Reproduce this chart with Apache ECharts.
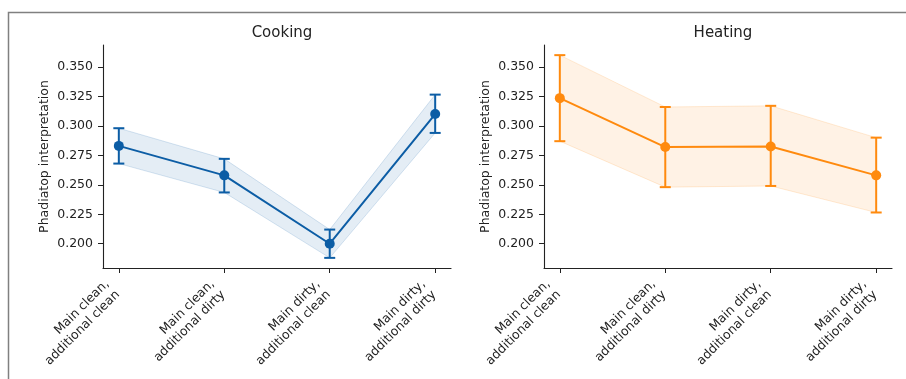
<!DOCTYPE html>
<html>
<head>
<meta charset="utf-8">
<script src="https://cdn.jsdelivr.net/npm/echarts@6/dist/echarts.min.js"></script>
<style>
html,body{margin:0;padding:0;background:#fff;}
#chart{width:906px;height:379px;}
</style>
</head>
<body>
<div id="chart"></div>
<script>
const categories = ["Main clean,\nadditional clean", "Main clean,\nadditional dirty", "Main dirty,\nadditional clean", "Main dirty,\nadditional dirty"];
const panelTitles = ["Cooking", "Heating"];
const cookingMean = [0.283, 0.258, 0.200, 0.310];
const cookingLow  = [0.268, 0.2435, 0.188, 0.294];
const cookingHigh = [0.298, 0.272, 0.212, 0.3265];
const heatingMean = [0.3235, 0.282, 0.2825, 0.258];
const heatingLow  = [0.287, 0.248, 0.249, 0.2265];
const heatingHigh = [0.360, 0.316, 0.317, 0.290];
const yTicks = [0.200, 0.225, 0.250, 0.275, 0.300, 0.325, 0.350];
const yLabel = "Phadiatop interpretation";

const FONT = "DejaVu Sans";
const yMin = 0.1794, yMax = 0.3686;
const xMin = -0.15, xMax = 3.15;
const colors = ["#0C5DA5", "#FF8A0E"];
const bandColors = ["rgba(12,93,165,0.11)", "rgba(255,138,14,0.11)"];
const bandEdge = ["rgba(12,93,165,0.16)", "rgba(255,138,14,0.16)"];

const chart = echarts.init(document.getElementById('chart'), null, {renderer: 'canvas'});

const grids = [
  {left: 103, top: 45, width: 348, height: 223},
  {left: 544, top: 45, width: 348, height: 223}
];

function xAxis(i) {
  return {
    type: 'value', gridIndex: i, min: xMin, max: xMax,
    splitLine: {show: false},
    axisLine: {show: true, onZero: false, lineStyle: {color: '#222', width: 1.1}},
    axisTick: {show: true, customValues: [0,1,2,3], length: 5, lineStyle: {color: '#222', width: 1}},
    axisLabel: {
      customValues: [0,1,2,3], rotate: 45, margin: 13,
      padding: [0, 9, 0, 0],
      fontFamily: FONT, fontSize: 12.5, color: '#222', lineHeight: 15,
      formatter: v => categories[Math.round(v)]
    }
  };
}
function yAxis(i) {
  return {
    type: 'value', gridIndex: i, min: yMin, max: yMax,
    splitLine: {show: false},
    axisLine: {show: true, onZero: false, lineStyle: {color: '#222', width: 1.1}},
    axisTick: {show: true, customValues: yTicks, length: 5, lineStyle: {color: '#222', width: 1}},
    axisLabel: {
      customValues: yTicks, margin: 10,
      fontFamily: FONT, fontSize: 12.5, color: '#222',
      formatter: v => v.toFixed(3)
    },
    name: yLabel, nameLocation: 'middle', nameGap: 52,
    nameTextStyle: {fontFamily: FONT, fontSize: 12.5, color: '#222'}
  };
}

function bandSeries(i, low, high) {
  return {
    type: 'custom', xAxisIndex: i, yAxisIndex: i, z: 1, silent: true,
    data: low.map((l, k) => [k, l, high[k]]),
    renderItem: function (params, api) {
      const k = params.dataIndex;
      if (k >= low.length - 1) return null;
      const a = api.coord([k, low[k]]), b = api.coord([k + 1, low[k + 1]]);
      const c = api.coord([k + 1, high[k + 1]]), d = api.coord([k, high[k]]);
      return {
        type: 'group', children: [
          {type: 'polygon', shape: {points: [a, b, c, d]}, style: {fill: bandColors[i], stroke: null}},
          {type: 'line', shape: {x1: a[0], y1: a[1], x2: b[0], y2: b[1]}, style: {stroke: bandEdge[i], lineWidth: 1}},
          {type: 'line', shape: {x1: d[0], y1: d[1], x2: c[0], y2: c[1]}, style: {stroke: bandEdge[i], lineWidth: 1}}
        ]
      };
    }
  };
}

function errSeries(i, low, high) {
  return {
    type: 'custom', xAxisIndex: i, yAxisIndex: i, z: 3, silent: true,
    data: low.map((l, k) => [k, l, high[k]]),
    renderItem: function (params, api) {
      const x = api.value(0);
      const lo = api.coord([x, api.value(1)]), hi = api.coord([x, api.value(2)]);
      const cw = 5.5;
      const st = {stroke: colors[i], lineWidth: 2};
      return {
        type: 'group', children: [
          {type: 'line', shape: {x1: lo[0], y1: lo[1], x2: hi[0], y2: hi[1]}, style: st},
          {type: 'line', shape: {x1: lo[0] - cw, y1: lo[1], x2: lo[0] + cw, y2: lo[1]}, style: st},
          {type: 'line', shape: {x1: hi[0] - cw, y1: hi[1], x2: hi[0] + cw, y2: hi[1]}, style: st}
        ]
      };
    }
  };
}

function lineSeries(i, mean) {
  return {
    type: 'line', xAxisIndex: i, yAxisIndex: i, z: 4, silent: true,
    data: mean.map((m, k) => [k, m]),
    symbol: 'circle', symbolSize: 10,
    lineStyle: {color: colors[i], width: 2},
    itemStyle: {color: colors[i]},
    animation: false
  };
}

const option = {
  animation: false,
  backgroundColor: '#fff',
  title: [
    {text: panelTitles[0], left: 277, top: 21, textAlign: 'center',
     textStyle: {fontFamily: FONT, fontSize: 15, fontWeight: 'normal', color: '#222'}},
    {text: panelTitles[1], left: 718, top: 21, textAlign: 'center',
     textStyle: {fontFamily: FONT, fontSize: 15, fontWeight: 'normal', color: '#222'}}
  ],
  grid: grids,
  xAxis: [xAxis(0), xAxis(1)],
  yAxis: [yAxis(0), yAxis(1)],
  series: [
    bandSeries(0, cookingLow, cookingHigh),
    errSeries(0, cookingLow, cookingHigh),
    lineSeries(0, cookingMean),
    bandSeries(1, heatingLow, heatingHigh),
    errSeries(1, heatingLow, heatingHigh),
    lineSeries(1, heatingMean)
  ],
  graphic: [
    {type: 'rect', silent: true, z: 100,
     shape: {x: 8.5, y: 12.5, width: 920, height: 400},
     style: {fill: null, stroke: '#808080', lineWidth: 1.5}}
  ]
};
chart.setOption(option);
</script>
</body>
</html>
